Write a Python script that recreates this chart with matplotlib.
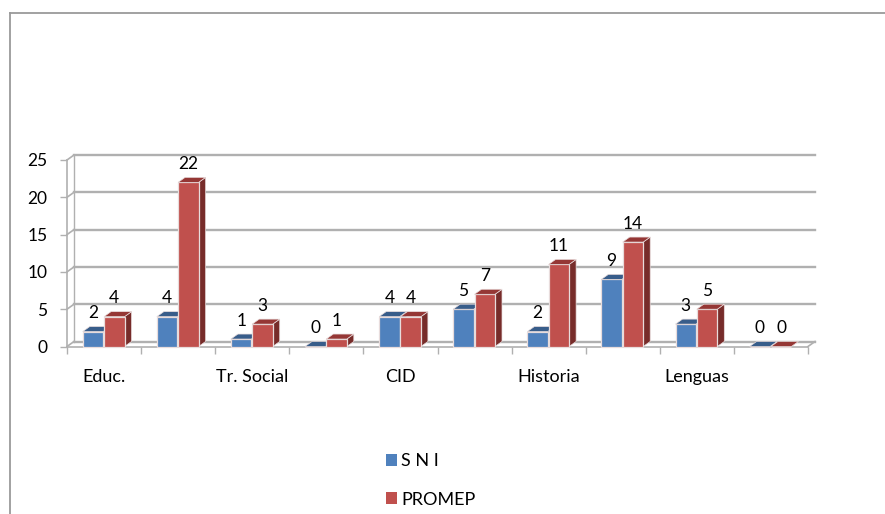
import matplotlib
matplotlib.use("Agg")
import matplotlib.pyplot as plt
from matplotlib.patches import Polygon, Patch
from matplotlib.transforms import Affine2D

categories = ["Educ.", "", "Tr. Social", "", "CID", "", "Historia", "", "Lenguas", ""]
sni = [2, 4, 1, 0, 4, 5, 2, 9, 3, 0]
promep = [4, 22, 3, 1, 4, 7, 11, 14, 5, 0]
yticks = [0, 5, 10, 15, 20, 25]

BLUE, BLUE_TOP, BLUE_SIDE = "#4f81bd", "#385d8a", "#2f4f78"
RED, RED_TOP, RED_SIDE = "#c0504d", "#953735", "#772c2a"
GRID = "#b0b0b0"

plt.rcParams["font.family"] = ["Lato", "DejaVu Sans"]
W, H = 885, 514
fig = plt.figure(figsize=(W / 100, H / 100), dpi=100)
L, R, B, T = 67, 808, 346.5, 160
ax = fig.add_axes([L / W, 1 - B / H, (R - L) / W, (B - T) / H])
ax.set_xlim(0, len(categories))
ax.set_ylim(0, 25)
ax.patch.set_alpha(0)

DX, DY = 7, 5
px_x = (R - L) / len(categories)
px_y = (B - T) / 25
ddx, ddy = DX / px_x, DY / px_y
back = ax.transData + Affine2D().translate(DX, DY)

# walls: gridlines on the back wall and the connectors to the front axis
for v in yticks:
    ax.plot([0, len(categories)], [v, v], color=GRID, lw=1.7, transform=back, zorder=1, clip_on=False)
    ax.plot([0, ddx], [v, v + ddy], color=GRID, lw=1.2, zorder=1, clip_on=False)
ax.plot([0, 0], [0, 25], color=GRID, lw=1.0, transform=back, zorder=1, clip_on=False)
ax.plot([len(categories), len(categories) + ddx], [0, ddy], color=GRID, lw=1.2, zorder=1, clip_on=False)

# bars
w = 20.5 / px_x
for i in range(len(categories)):
    for val, off, fc, top, side in (
        (sni[i], 15.7 / px_x, BLUE, BLUE_TOP, BLUE_SIDE),
        (promep[i], 37 / px_x, RED, RED_TOP, RED_SIDE),
    ):
        x = i + off
        ax.bar(x, val, width=w, align="edge", color=fc, edgecolor="#e8dcdc", lw=0.9, zorder=3, clip_on=False)
        ax.add_patch(Polygon([(x, val), (x + ddx, val + ddy), (x + w + ddx, val + ddy), (x + w, val)],
                             fc=top, ec="#e8dcdc", lw=0.5, zorder=3, clip_on=False))
        ax.add_patch(Polygon([(x + w, 0), (x + w + ddx, ddy), (x + w + ddx, val + ddy), (x + w, val)],
                             fc=side, ec="#e8dcdc", lw=0.5, zorder=2.5, clip_on=False))
        ax.annotate(str(val), (x + w / 2, val), xytext=(0, 18.5 * 0.72), textcoords="offset points",
                    ha="center", va="center", fontsize=12.5, color="black", zorder=5)

# axes
for s in ("top", "right"):
    ax.spines[s].set_visible(False)
for s in ("left", "bottom"):
    ax.spines[s].set_color(GRID)
    ax.spines[s].set_linewidth(1.2)
ax.set_yticks(yticks)
ax.set_xticks(range(len(categories) + 1))
ax.set_xticklabels([])
ax.set_xticks([i + 0.5 for i in range(len(categories))], categories, minor=True)
ax.tick_params(axis="y", length=5, width=1, color=GRID, pad=9, labelsize=12.5, labelcolor="black")
ax.tick_params(axis="x", which="major", length=5, width=1, color=GRID)
ax.tick_params(axis="x", which="minor", length=0, pad=16, labelsize=13, labelcolor="black")

# outer frame
frame_c = "#9a9a9a"
fig.add_artist(plt.Line2D([10 / W, 10 / W], [0, 1 - 13 / H], color=frame_c, lw=1.3))
fig.add_artist(plt.Line2D([10 / W, 1], [1 - 13 / H, 1 - 13 / H], color=frame_c, lw=1.3))

# legend
leg = fig.legend(handles=[Patch(fc=BLUE, label="S N I"), Patch(fc=RED, label="PROMEP")],
                 loc="upper left", bbox_to_anchor=(378.5 / W, 1 - 446 / H), frameon=False,
                 handlelength=0.65, handleheight=0.65, handletextpad=0.2, labelspacing=1.25,
                 fontsize=13, borderaxespad=0, borderpad=0.4)

fig.savefig("out.png", dpi=100, facecolor="white")
